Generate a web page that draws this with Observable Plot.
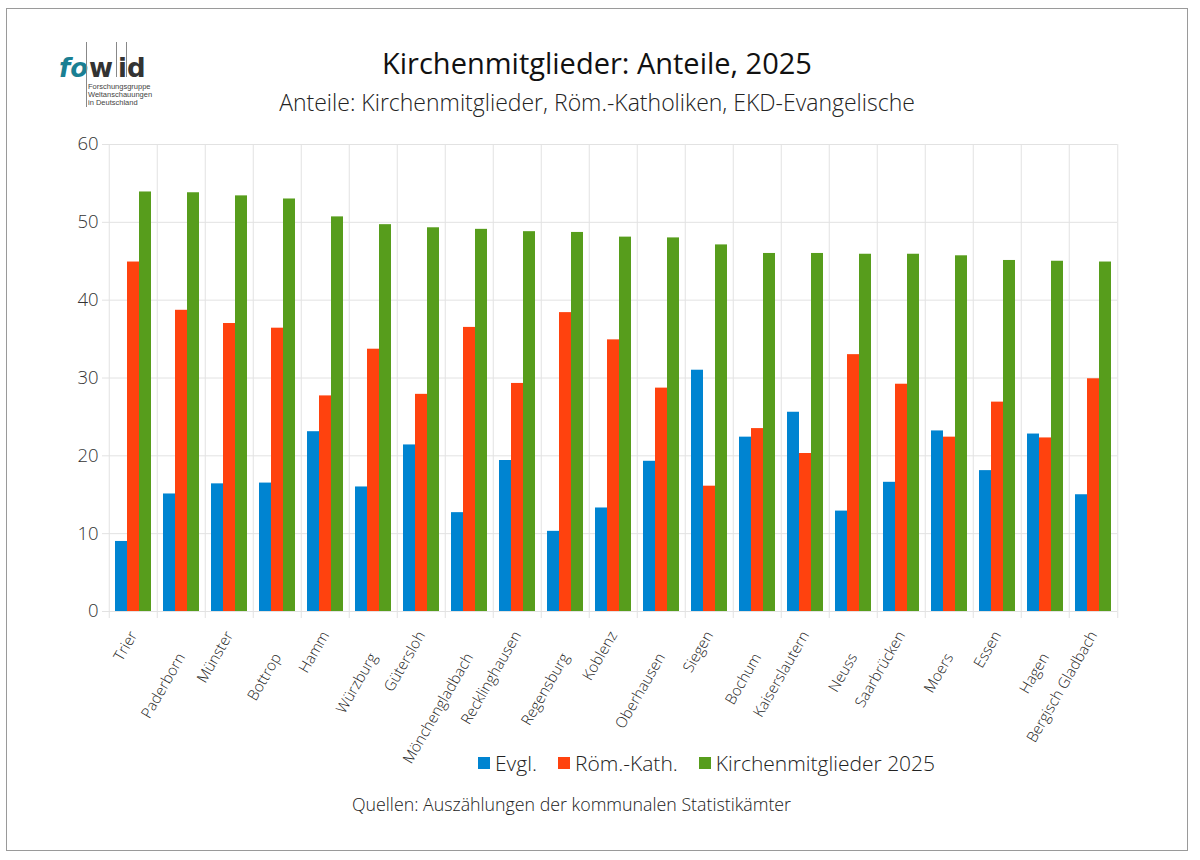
<!DOCTYPE html>
<html>
<head>
<meta charset="utf-8">
<script src="https://cdn.jsdelivr.net/npm/d3@7"></script>
<script src="https://cdn.jsdelivr.net/npm/@observablehq/plot@0.6"></script>
<style>
  html, body { margin: 0; padding: 0; background: #fff; }
  body { width: 1200px; height: 860px; position: relative; overflow: hidden; font-family: "Open Sans", sans-serif; color: #222; }
  #frame { position: absolute; left: 6px; top: 8px; width: 1180px; height: 841px; border: 1.5px solid #9a9a9a; pointer-events: none; }
  #chart { position: absolute; left: 0; top: 0; }
  .abs { position: absolute; white-space: nowrap; }
  #title { left: 0; width: 1194px; top: 43px; text-align: center; font-size: 29px; font-weight: 400; color: #111; }
  #subtitle { left: 0; width: 1194px; top: 86px; text-align: center; font-size: 23px; font-weight: 300; color: #222; }
  #legend { left: 478px; top: 749px; font-size: 21px; font-weight: 300; color: #222; display: flex; align-items: center; }
  #legend .sw { display: inline-block; width: 12px; height: 12px; margin-right: 5px; }
  #legend .it { display: flex; align-items: center; margin-right: 21px; }
  #caption { left: 352px; top: 792px; font-size: 17.8px; font-weight: 300; color: #222; }
  #logo { left: 59px; top: 52px; width: 100px; height: 60px; }
  #logo .big { position: absolute; top: 0; font-size: 26px; font-weight: 700; line-height: 32px; font-family: "DejaVu Sans", sans-serif; }
  #logo .sm { position: absolute; left: 29px; font-size: 7.5px; line-height: 8px; color: #444; font-family: "Liberation Sans", sans-serif; }
  #logo .vl { position: absolute; width: 1px; background: #888; }
</style>
</head>
<body>
<div id="chart"></div>
<div id="title" class="abs">Kirchenmitglieder: Anteile, 2025</div>
<div id="subtitle" class="abs">Anteile: Kirchenmitglieder, Röm.-Katholiken, EKD-Evangelische</div>
<div id="logo" class="abs">
  <span class="big" style="left:0; color:#1a7f93; font-style:italic;">fo</span>
  <span class="vl" style="left:27px; top:-10px; height:65px;"></span>
  <span class="big" style="left:30px; color:#333;">w</span>
  <span class="vl" style="left:57px; top:-10px; height:35px;"></span>
  <span class="big" style="left:59px; color:#333;">i</span>
  <span class="vl" style="left:67px; top:-10px; height:35px;"></span>
  <span class="big" style="left:68px; color:#333;">d</span>
  <div class="sm" style="top:31px;">Forschungsgruppe<br>Weltanschauungen<br>in Deutschland</div>
</div>
<div id="legend" class="abs"></div>
<div id="caption" class="abs">Quellen: Auszählungen der kommunalen Statistikämter</div>
<div id="frame"></div>
<script>
const cities = ["Trier","Paderborn","Münster","Bottrop","Hamm","Würzburg","Gütersloh","Mönchengladbach","Recklinghausen","Regensburg","Koblenz","Oberhausen","Siegen","Bochum","Kaiserslautern","Neuss","Saarbrücken","Moers","Essen","Hagen","Bergisch Gladbach"];
const evgl   = [9.0,15.1,16.4,16.5,23.1,16.0,21.4,12.7,19.4,10.3,13.3,19.3,31.0,22.4,25.6,12.9,16.6,23.2,18.1,22.8,15.0];
const kath   = [44.9,38.7,37.0,36.4,27.7,33.7,27.9,36.5,29.3,38.4,34.9,28.7,16.1,23.5,20.3,33.0,29.2,22.4,26.9,22.3,29.9];
const kirche = [53.9,53.8,53.4,53.0,50.7,49.7,49.3,49.1,48.8,48.7,48.1,48.0,47.1,46.0,46.0,45.9,45.9,45.7,45.1,45.0,44.9];
const series = ["Evgl.","Röm.-Kath.","Kirchenmitglieder 2025"];
const colors = ["#0084d1","#ff420e","#579d1c"];
const yTicks = [0,10,20,30,40,50,60];

const values = [evgl, kath, kirche];
const rows = cities.flatMap((c, i) => series.map((s, k) => ({city: c, series: s, value: values[k][i]})));

const W = 1200, H = 860, mL = 104, mR = 78, mT = 144, mB = 249;
const step = (W - mL - mR) / cities.length;
const gridColor = "#e2e2e2";

const chart = Plot.plot({
  width: W, height: H,
  marginLeft: mL, marginRight: mR, marginTop: mT, marginBottom: mB,
  style: {fontFamily: "'Open Sans', sans-serif", background: "transparent", overflow: "visible"},
  fx: {domain: cities, padding: 0, label: null},
  x: {domain: series, paddingInner: 0, paddingOuter: 0.5, axis: null},
  y: {domain: [0, 60], label: null},
  color: {domain: series, range: colors},
  marks: [
    Plot.gridY({ticks: yTicks, stroke: gridColor, strokeOpacity: 1}),
    Plot.gridFx({dx: -step / 2, stroke: gridColor, strokeOpacity: 1, insetBottom: -7}),
    Plot.gridFx({ticks: [cities[cities.length - 1]], dx: step / 2, stroke: gridColor, strokeOpacity: 1, insetBottom: -7}),
    Plot.axisY({ticks: yTicks, tickSize: 7, tickPadding: 4, stroke: gridColor, fill: "#333", fontSize: 18.5, fontWeight: 300, label: null}),
    Plot.barY(rows, {fx: "city", x: "series", y: "value", fill: "series"}),
    Plot.axisFx({anchor: "bottom", ticks: cities.filter((d, i) => i % 2 === 0), tickSize: 0, tickPadding: 21, tickRotate: -60, fontSize: 15, fontWeight: 300, fill: "#222", dx: 0, label: null}),
    Plot.axisFx({anchor: "bottom", ticks: cities.filter((d, i) => i % 2 === 1), tickSize: 0, tickPadding: 43, tickRotate: -60, fontSize: 15, fontWeight: 300, fill: "#222", dx: 0, label: null})
  ]
});
document.getElementById("chart").appendChild(chart);

const legend = document.getElementById("legend");
series.forEach((s, k) => {
  const it = document.createElement("span");
  it.className = "it";
  const sw = document.createElement("span");
  sw.className = "sw";
  sw.style.background = colors[k];
  it.appendChild(sw);
  it.appendChild(document.createTextNode(s));
  legend.appendChild(it);
});
</script>
</body>
</html>
